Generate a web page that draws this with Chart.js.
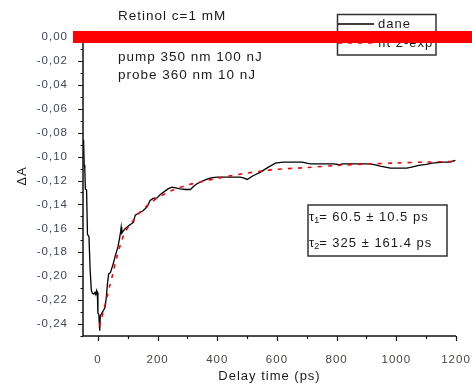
<!DOCTYPE html>
<html>
<head>
<meta charset="utf-8">
<script src="https://cdn.jsdelivr.net/npm/chart.js@4.4.1/dist/chart.umd.min.js"></script>
<style>
  html, body { margin: 0; padding: 0; background: #fff; }
  canvas { display: block; }
</style>
</head>
<body>
<canvas id="chart" width="472" height="386"></canvas>
<script>
// Measured transient absorption (delay in ps, ΔA)
const delayTimes = [-48, -46, -44, -42, -38, -35, -30, -26, -22, -18, -14, -10, -7, -4, -2, 0, 3, 6, 8, 11,
  14, 19, 24, 28, 32, 36, 42, 47, 52, 58, 63, 67, 72, 76, 78, 80, 84, 89, 95, 102,
  110, 119, 125, 132, 142, 150, 164, 175, 185, 198, 210, 220, 235, 248, 260, 275, 295, 310, 320, 332,
  350, 370, 385, 400, 440, 477, 490, 500, 520, 545, 570, 595, 620, 650, 685, 700, 712, 760, 790, 810,
  818, 870, 912, 930, 946, 980, 1000, 1035, 1055, 1075, 1100, 1120, 1158, 1180, 1198];
const daneValues = [-0.086, -0.107, -0.110, -0.127, -0.128, -0.165, -0.167, -0.195, -0.212, -0.2145, -0.215, -0.2135, -0.2155, -0.212, -0.2135, -0.231, -0.232, -0.2455, -0.233, -0.232,
  -0.2305, -0.2285, -0.226, -0.218, -0.206, -0.198, -0.197, -0.193, -0.189, -0.183, -0.179, -0.1755, -0.169, -0.163, -0.159, -0.164, -0.1625, -0.161, -0.1595, -0.158,
  -0.1565, -0.155, -0.149, -0.148, -0.1465, -0.1455, -0.1423, -0.1367, -0.135, -0.1345, -0.1315, -0.1297, -0.127, -0.1256, -0.1262, -0.127, -0.1275, -0.1275, -0.125, -0.1227,
  -0.1205, -0.1185, -0.1175, -0.1172, -0.1172, -0.1172, -0.118, -0.1191, -0.116, -0.113, -0.109, -0.1055, -0.1046, -0.1046, -0.1046, -0.1055, -0.106, -0.106, -0.106, -0.1068,
  -0.106, -0.106, -0.106, -0.107, -0.108, -0.1096, -0.1096, -0.1096, -0.1085, -0.1074, -0.1065, -0.1055, -0.1046, -0.1045, -0.1032];

// Two-exponential fit curve
const fitTimes = [5, 10, 20, 30, 40, 50, 60, 70, 80, 90, 100, 115, 130, 150, 175, 200, 230, 260, 300, 350,
  400, 450, 500, 550, 600, 700, 800, 900, 1000, 1100, 1200];
const fitValues = [-0.242, -0.2375, -0.2275, -0.218, -0.2075, -0.198, -0.187, -0.178, -0.170, -0.1635, -0.1595, -0.1545, -0.1495, -0.1445, -0.139, -0.1345, -0.1305, -0.127, -0.1238, -0.1208,
  -0.1182, -0.1158, -0.1138, -0.1121, -0.1106, -0.1092, -0.1074, -0.1062, -0.1053, -0.1046, -0.1040];

const xTickValues = [0, 200, 400, 600, 800, 1000, 1200];
const xMinorValues = [100, 300, 500, 700, 900, 1100];
const yTickValues = [0, -0.02, -0.04, -0.06, -0.08, -0.10, -0.12, -0.14, -0.16, -0.18, -0.20, -0.22, -0.24];
const yMinorValues = [-0.01, -0.03, -0.05, -0.07, -0.09, -0.11, -0.13, -0.15, -0.17, -0.19, -0.21, -0.23, -0.25];

const sampleInfo = ['Retinol c=1 mM', 'pump 350 nm 100 nJ', 'probe 360 nm 10 nJ'];
const fitLifetimes = [['1', '= 60.5 \u00b1 10.5 ps'], ['2', '= 325 \u00b1 161.4 ps']];
const xTitle = 'Delay time (ps)';
const yTitle = '\u0394A';

const FONT = '"Liberation Sans", Arial, sans-serif';
const fmtComma = v => (Math.abs(v) < 1e-9 ? 0 : v).toFixed(2).replace('.', ',');

const decor = {
  id: 'decor',
  beforeDraw(chart) {
    chart.ctx.letterSpacing = '1px';
  },
  afterDraw(chart) {
    const ctx = chart.ctx;
    const xs = chart.scales.x, ys = chart.scales.y;
    const a = chart.chartArea;
    ctx.save();
    ctx.letterSpacing = '1px';

    // axis lines
    ctx.strokeStyle = '#111';
    ctx.lineWidth = 1.5;
    ctx.beginPath();
    ctx.moveTo(a.left, a.top);
    ctx.lineTo(a.left, a.bottom);
    ctx.lineTo(a.right, a.bottom);
    ctx.stroke();

    // tick marks
    ctx.lineWidth = 1.2;
    ctx.beginPath();
    yTickValues.forEach(v => { const p = Math.round(ys.getPixelForValue(v)) + 0.5; ctx.moveTo(a.left, p); ctx.lineTo(a.left - 5, p); });
    yMinorValues.forEach(v => { const p = Math.round(ys.getPixelForValue(v)) + 0.5; ctx.moveTo(a.left, p); ctx.lineTo(a.left - 2.5, p); });
    xTickValues.forEach(v => { const p = Math.round(xs.getPixelForValue(v)) + 0.5; ctx.moveTo(p, a.bottom); ctx.lineTo(p, a.bottom + 5); });
    xMinorValues.forEach(v => { const p = Math.round(xs.getPixelForValue(v)) + 0.5; ctx.moveTo(p, a.bottom); ctx.lineTo(p, a.bottom + 3); });
    ctx.stroke();

    // axis titles
    ctx.fillStyle = '#1a1a1a';
    ctx.font = '13px ' + FONT;
    ctx.textAlign = 'center';
    ctx.textBaseline = 'middle';
    ctx.fillText(xTitle, (a.left + a.right) / 2, 376);
    ctx.save();
    ctx.translate(22, 176);
    ctx.rotate(-Math.PI / 2);
    ctx.fillText(yTitle, 0, 0);
    ctx.restore();

    // sample description
    ctx.textAlign = 'left';
    ctx.font = '13.5px ' + FONT;
    const infoY = [16, 57, 75];
    sampleInfo.forEach((t, i) => ctx.fillText(t, 118, infoY[i]));

    // legend
    ctx.font = '13px ' + FONT;
    ctx.fillStyle = '#fff';
    ctx.fillRect(337.5, 14.5, 98.5, 40.5);
    ctx.strokeStyle = '#333';
    ctx.lineWidth = 1.5;
    ctx.strokeRect(337.5, 14.5, 98.5, 40.5);
    const rowY = [24, 43];
    chart.data.datasets.forEach((ds, i) => {
      ctx.save();
      ctx.strokeStyle = ds.borderColor;
      ctx.lineWidth = ds.borderWidth;
      ctx.setLineDash(ds.borderDash || []);
      ctx.beginPath();
      ctx.moveTo(338, rowY[i]);
      ctx.lineTo(374, rowY[i]);
      ctx.stroke();
      ctx.restore();
      ctx.fillStyle = '#1a1a1a';
      ctx.fillText(ds.label, 378, rowY[i]);
    });

    // fitted lifetimes
    ctx.fillStyle = '#fff';
    ctx.fillRect(308, 205, 139, 51);
    ctx.strokeStyle = '#333';
    ctx.lineWidth = 1.5;
    ctx.strokeRect(308, 205, 139, 51);
    ctx.fillStyle = '#1a1a1a';
    const tauY = [217, 243];
    fitLifetimes.forEach(([sub, rest], i) => {
      let x = 309;
      ctx.font = '13px ' + FONT;
      ctx.fillText('\u03c4', x, tauY[i]);
      x += ctx.measureText('\u03c4').width - 1;
      ctx.font = '9px ' + FONT;
      ctx.fillText(sub, x, tauY[i] + 4);
      x += ctx.measureText(sub).width - 1;
      ctx.font = '13px ' + FONT;
      ctx.fillText(rest, x, tauY[i]);
    });

    // thick red band along ΔA = 0
    const y0 = ys.getPixelForValue(0);
    ctx.fillStyle = '#ff0000';
    ctx.fillRect(a.left - 10, y0 - 6, chart.width - (a.left - 10), 12);

    ctx.restore();
  }
};

new Chart(document.getElementById('chart'), {
  type: 'line',
  data: {
    datasets: [
      {
        label: 'dane',
        data: delayTimes.map((t, i) => ({ x: t, y: daneValues[i] })),
        borderColor: '#000',
        borderWidth: 1.3,
        pointRadius: 0,
        tension: 0,
        order: 1
      },
      {
        label: 'fit 2-exp',
        data: fitTimes.map((t, i) => ({ x: t, y: fitValues[i] })),
        borderColor: '#ff0000',
        borderWidth: 1.6,
        borderDash: [4, 6],
        pointRadius: 0,
        tension: 0.3,
        order: 0
      }
    ]
  },
  options: {
    responsive: false,
    animation: false,
    events: [],
    layout: { padding: { top: 37, right: 16, left: 0, bottom: 0 } },
    plugins: { legend: { display: false }, tooltip: { enabled: false } },
    scales: {
      x: {
        type: 'linear',
        min: -50,
        max: 1200,
        grid: { display: false },
        border: { display: false },
        afterBuildTicks: s => { s.ticks = xTickValues.map(v => ({ value: v })); },
        afterFit: s => { s.height = 50; s.paddingLeft = 0; s.paddingRight = 0; },
        ticks: {
          autoSkip: false,
          maxRotation: 0,
          padding: 9,
          color: '#4a4540',
          font: { family: FONT, size: 11.5 },
          callback: v => String(v)
        }
      },
      y: {
        type: 'linear',
        min: -0.25,
        max: 0,
        grid: { display: false },
        border: { display: false },
        afterBuildTicks: s => { s.ticks = yTickValues.map(v => ({ value: v })); },
        afterFit: s => { s.width = 83; s.paddingTop = 0; s.paddingBottom = 0; },
        ticks: {
          padding: 7,
          color: '#42465a',
          font: { family: FONT, size: 11.5 },
          callback: v => fmtComma(v)
        }
      }
    }
  },
  plugins: [decor]
});
</script>
</body>
</html>
